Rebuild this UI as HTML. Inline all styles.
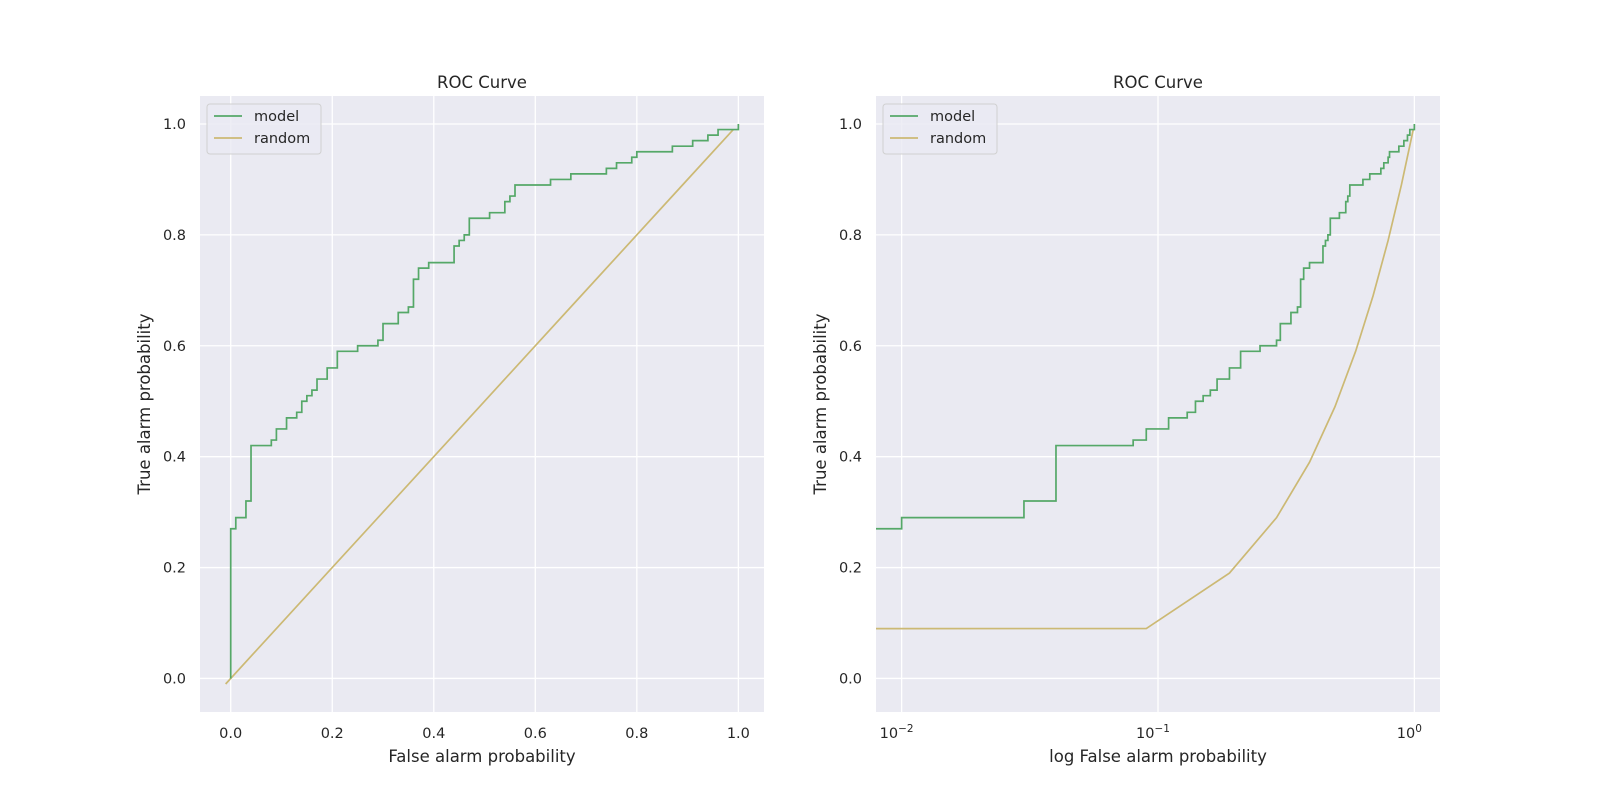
<!DOCTYPE html>
<html><head><meta charset="utf-8"><style>
body{margin:0;background:#fff;font-family:"Liberation Sans","DejaVu Sans",sans-serif;}
svg text{font-family:"DejaVu Sans","Liberation Sans",sans-serif;fill:#262626;}
</style></head><body>
<svg id="fig" width="1600" height="800" xmlns="http://www.w3.org/2000/svg"></svg>
<script>
const modelFpr=[0,0,0.01,0.01,0.03,0.03,0.04,0.04,0.08,0.08,0.09,0.09,0.11,0.11,0.13,0.13,0.14,0.14,0.15,0.15,0.16,0.16,0.17,0.17,0.19,0.19,0.21,0.21,0.25,0.25,0.29,0.29,0.30,0.30,0.33,0.33,0.35,0.35,0.36,0.36,0.37,0.37,0.39,0.39,0.44,0.44,0.45,0.45,0.46,0.46,0.47,0.47,0.51,0.51,0.54,0.54,0.55,0.55,0.56,0.56,0.63,0.63,0.67,0.67,0.74,0.74,0.76,0.76,0.79,0.79,0.80,0.80,0.87,0.87,0.91,0.91,0.94,0.94,0.96,0.96,1.0,1.0];
const modelTpr=[0,0.27,0.27,0.29,0.29,0.32,0.32,0.42,0.42,0.43,0.43,0.45,0.45,0.47,0.47,0.48,0.48,0.50,0.50,0.51,0.51,0.52,0.52,0.54,0.54,0.56,0.56,0.59,0.59,0.60,0.60,0.61,0.61,0.64,0.64,0.66,0.66,0.67,0.67,0.72,0.72,0.74,0.74,0.75,0.75,0.78,0.78,0.79,0.79,0.80,0.80,0.83,0.83,0.84,0.84,0.86,0.86,0.87,0.87,0.89,0.89,0.90,0.90,0.91,0.91,0.92,0.92,0.93,0.93,0.94,0.94,0.95,0.95,0.96,0.96,0.97,0.97,0.98,0.98,0.99,0.99,1.0];
const randomX=[-0.01,0.09,0.19,0.29,0.39,0.49,0.59,0.69,0.79,0.89,0.99];
const randomY=[-0.01,0.09,0.19,0.29,0.39,0.49,0.59,0.69,0.79,0.89,0.99];
const linTicks=[0,0.2,0.4,0.6,0.8,1.0];
const linTickLabels=["0.0","0.2","0.4","0.6","0.8","1.0"];
const logTicks=[-2,-1,0];
const logTickLabels=["10","10","10"];
const logTickExp=["−2","−1","0"];
const svg=document.getElementById('fig');
const NS='http://www.w3.org/2000/svg';
function mk(tag,attrs,parent){const e=document.createElementNS(NS,tag);for(const k in attrs)e.setAttribute(k,attrs[k]);(parent||svg).appendChild(e);return e;}
const axTop=96,axBot=712;
const yMin=-0.0605,yMax=1.0505;
function sy(v){return axBot-(v-yMin)/(yMax-yMin)*(axBot-axTop);}
function panel(id,L,R,xMin,xMax,xf,isLog){
  const sx=v=>{const t=xf(v);return L+(t-xMin)/(xMax-xMin)*(R-L);};
  const g=mk('g',{});
  
  
  mk('rect',{x:L,y:axTop,width:R-L,height:axBot-axTop,fill:'#eaeaf2'},g);
  const cp=mk('clipPath',{id:id+'-clip'},g);
  mk('rect',{x:L,y:axTop,width:R-L,height:axBot-axTop},cp);
  linTicks.forEach((v,i)=>{
    const y=sy(v);
    const gl=mk('line',{x1:L,x2:R,y1:y,y2:y,stroke:'#fff','stroke-width':1.3},g);
    
    
    const t=mk('text',{x:L-14,y:y+5,'text-anchor':'end','font-size':14.5},g);
    t.textContent=linTickLabels[i];
    
    
  });
  const xt=isLog?logTicks.map(e=>Math.pow(10,e)):linTicks;
  xt.forEach((v,i)=>{
    const x=sx(v);
    const gl=mk('line',{x1:x,x2:x,y1:axTop,y2:axBot,stroke:'#fff','stroke-width':1.3},g);
    
    
    const t=mk('text',{x:x,y:axBot+26,'text-anchor':'middle','font-size':14.5},g);
    if(isLog){t.textContent=logTickLabels[i];const s=mk('tspan',{dy:-6,'font-size':10.5},t);s.textContent=logTickExp[i];t.setAttribute('x',x-5);}
    else t.textContent=linTickLabels[i];
    
    
  });
  const line=(xs,ys,col,name)=>{
    const d=xs.map((v,i)=>(i?'L':'M')+sx(v).toFixed(2)+' '+sy(ys[i]).toFixed(2)).join(' ');
    const p=mk('path',{d:d,fill:'none',stroke:col,'stroke-width':1.7,'clip-path':'url(#'+id+'-clip)'},g);
    
    
  };
  line(randomX,randomY,'#ccb974','random-line');
  line(modelFpr,modelTpr,'#55a868','model-line');
  const ti=mk('text',{x:(L+R)/2,y:axTop-8,'text-anchor':'middle','font-size':16.5},g);
  ti.textContent='ROC Curve';
  
  
  const xl=mk('text',{x:(L+R)/2,y:axBot+50,'text-anchor':'middle','font-size':16.5},g);
  xl.textContent=isLog?'log False alarm probability':'False alarm probability';
  
  
  const yl=mk('text',{x:0,y:0,'text-anchor':'middle','font-size':16.5,transform:'translate('+(L-50)+','+((axTop+axBot)/2)+') rotate(-90)'},g);
  yl.textContent='True alarm probability';
  
  
  const lg=mk('g',{},g);
  
  
  mk('rect',{x:L+7,y:axTop+8,width:114,height:50,rx:3,fill:'#eaeaf2','fill-opacity':0.8,stroke:'#d0d0d0'},lg);
  [['model','#55a868',20],['random','#ccb974',42]].forEach(([n,c,dy])=>{
    mk('line',{x1:L+14,x2:L+42,y1:axTop+dy,y2:axTop+dy,stroke:c,'stroke-width':1.7},lg);
    const t=mk('text',{x:L+54,y:axTop+dy+5,'font-size':14.5},lg);
    t.textContent=n;
    
    
  });
}
panel('left',200,764,-0.0605,1.0505,v=>v,false);
panel('right',876,1440,-2.1,0.1,v=>v>0?Math.log10(v):-1000,true);
</script>
</body></html>
